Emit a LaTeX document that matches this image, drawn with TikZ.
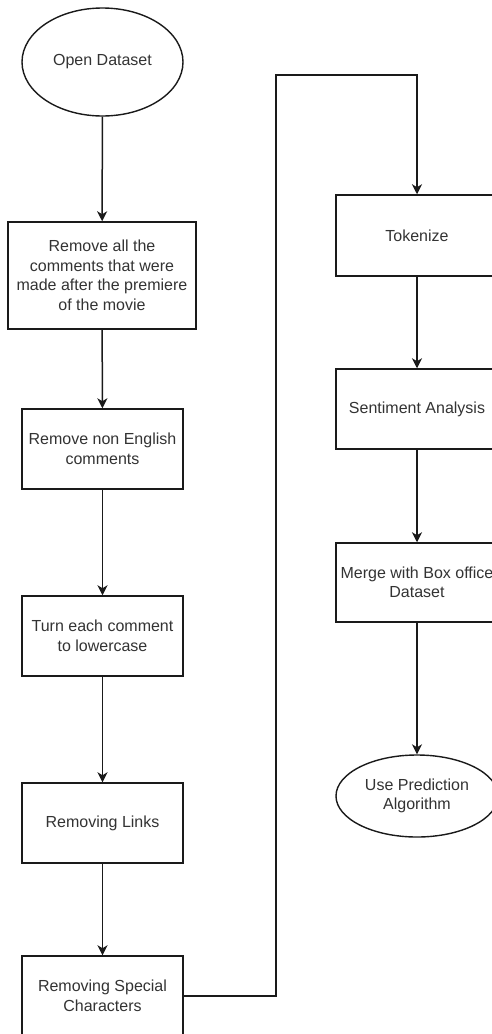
\documentclass[tikz,border=0pt]{standalone}
\usepackage{fontspec}
\setmainfont{Liberation Sans}
\usetikzlibrary{shapes.geometric,arrows.meta}
\definecolor{linecol}{HTML}{1A1A1A}
\definecolor{textcol}{HTML}{333333}
\begin{document}
\begin{tikzpicture}[x=1pt,y=-1pt,
  every node/.style={font=\fontsize{16}{19.5}\selectfont, text=textcol, align=center, inner sep=0pt},
  stepbox/.style={draw=linecol, line width=1.5pt, rectangle, minimum width=161pt, minimum height=80pt},
  termnode/.style={draw=linecol, line width=1.4pt, ellipse, minimum width=161pt},
  flow/.style={draw=linecol, line width=1.5pt, -{Stealth[length=10pt,width=10pt,inset=3pt]}}
]
\useasboundingbox[fill=white] (0,0) rectangle (491,1034);

% left column
\node[termnode, minimum height=108pt] (open) at (102.5,62) {Open Dataset};
\node[stepbox, minimum width=188pt, minimum height=107pt] (b1) at (102,275.5)
  {Remove all the\\comments that were\\made after the premiere\\of the movie};
\node[stepbox] (b2) at (102.5,449) {Remove non English\\comments};
\node[stepbox] (b3) at (102.5,636) {Turn each comment\\to lowercase};
\node[stepbox] (b4) at (102.5,823) {Removing Links};
\node[stepbox] (b5) at (102.5,996) {Removing Special\\Characters};

% right column
\node[stepbox, minimum width=162pt, minimum height=81pt] (tok) at (417,235.5) {Tokenize};
\node[stepbox, minimum width=162pt] (sent) at (417,409) {Sentiment Analysis};
\node[stepbox, minimum width=162pt, minimum height=79pt] (merge) at (417,582.5) {Merge with Box office\\Dataset};
\node[termnode, minimum width=162pt, minimum height=82pt] (pred) at (417,796) {Use Prediction\\Algorithm};

% connectors
\draw[flow] (open) -- (b1);
\draw[flow] (b1) -- (b2);
\draw[flow] (b2) -- (b3);
\draw[flow] (b3) -- (b4);
\draw[flow] (b4) -- (b5);
\coordinate (bend) at (276,75);
\draw[flow] (b5.east) -| (bend) -| (tok.north);
\draw[flow] (tok) -- (sent);
\draw[flow] (sent) -- (merge);
\draw[flow] (merge) -- (pred);
\end{tikzpicture}
\end{document}
